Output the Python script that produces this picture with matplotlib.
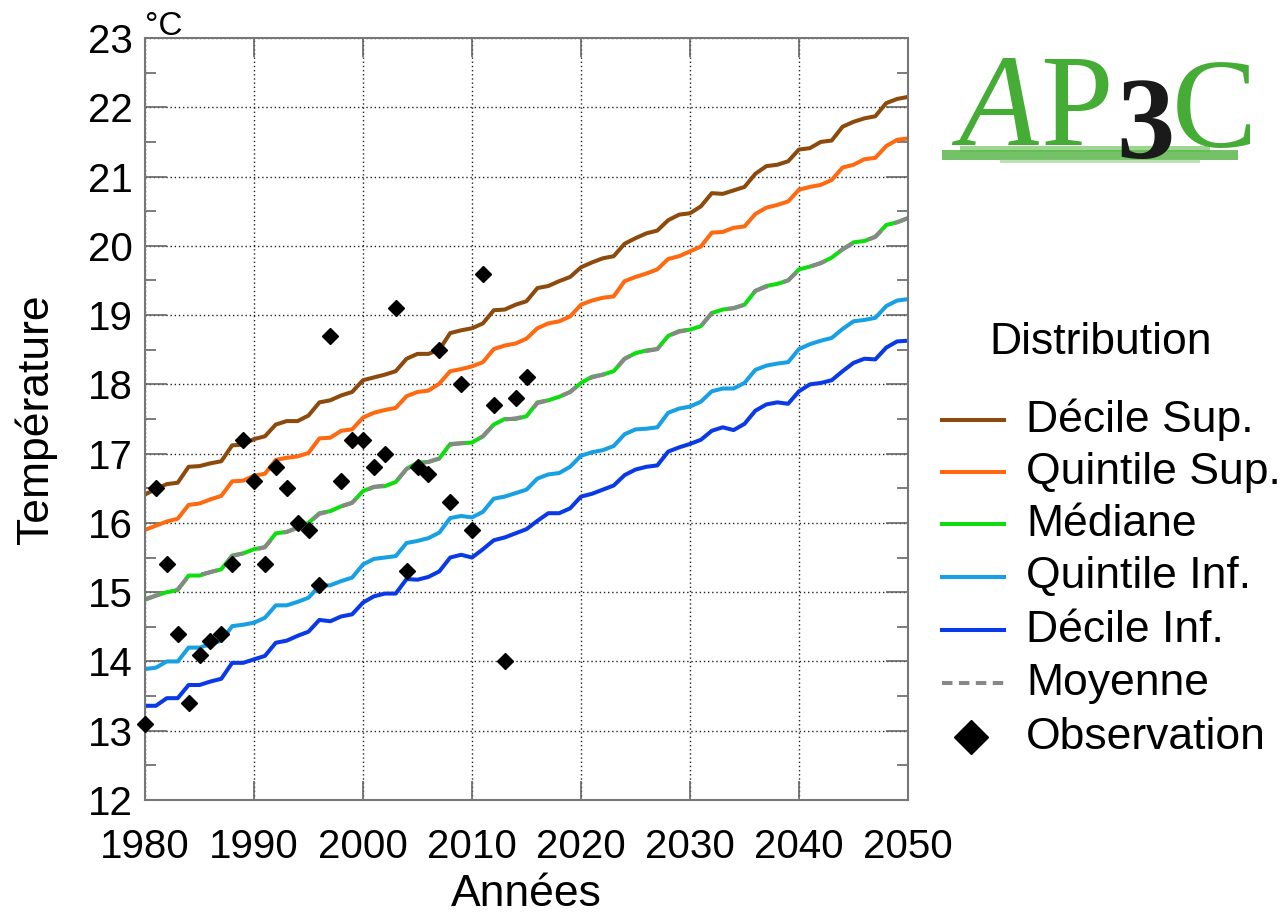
import matplotlib
matplotlib.use('Agg')
import matplotlib.pyplot as plt
from matplotlib.lines import Line2D
from matplotlib.patches import Rectangle
from matplotlib.ticker import MultipleLocator

plt.rcParams['font.family'] = ['Liberation Sans', 'DejaVu Sans']

years = list(range(1980, 2051))

decile_sup = [16.41, 16.49, 16.56, 16.58, 16.81, 16.82, 16.86, 16.89, 17.12, 17.13,
              17.21, 17.25, 17.42, 17.47, 17.47, 17.55, 17.74, 17.77, 17.84, 17.89,
              18.06, 18.10, 18.14, 18.19, 18.37, 18.44, 18.44, 18.50, 18.74, 18.78,
              18.81, 18.88, 19.07, 19.08, 19.15, 19.20, 19.39, 19.42, 19.49, 19.55,
              19.69, 19.76, 19.82, 19.85, 20.03, 20.11, 20.18, 20.22, 20.37, 20.45,
              20.47, 20.57, 20.76, 20.75, 20.80, 20.85, 21.04, 21.15, 21.17, 21.22,
              21.39, 21.41, 21.50, 21.52, 21.72, 21.79, 21.84, 21.87, 22.06, 22.12,
              22.15]

quintile_sup = [15.90, 15.96, 16.02, 16.06, 16.26, 16.28, 16.34, 16.39, 16.60, 16.61,
                16.68, 16.71, 16.91, 16.94, 16.96, 17.01, 17.22, 17.23, 17.33, 17.35,
                17.52, 17.59, 17.63, 17.66, 17.83, 17.89, 17.91, 18.01, 18.19, 18.22,
                18.26, 18.32, 18.51, 18.56, 18.59, 18.66, 18.81, 18.88, 18.91, 18.98,
                19.15, 19.21, 19.25, 19.27, 19.49, 19.55, 19.60, 19.66, 19.81, 19.85,
                19.92, 19.99, 20.19, 20.20, 20.26, 20.28, 20.46, 20.55, 20.59, 20.64,
                20.81, 20.85, 20.88, 20.95, 21.13, 21.17, 21.25, 21.27, 21.44, 21.53,
                21.55]

mediane = [14.90, 14.95, 15.00, 15.03, 15.24, 15.24, 15.29, 15.33, 15.53, 15.56,
           15.62, 15.65, 15.85, 15.87, 15.93, 16.00, 16.14, 16.17, 16.24, 16.29,
           16.46, 16.52, 16.53, 16.59, 16.78, 16.87, 16.88, 16.93, 17.14, 17.15,
           17.16, 17.25, 17.42, 17.50, 17.50, 17.54, 17.74, 17.77, 17.82, 17.89,
           18.02, 18.11, 18.14, 18.19, 18.37, 18.45, 18.49, 18.51, 18.70, 18.77,
           18.79, 18.84, 19.03, 19.08, 19.10, 19.15, 19.35, 19.42, 19.45, 19.50,
           19.66, 19.70, 19.75, 19.83, 19.95, 20.05, 20.07, 20.13, 20.30, 20.34,
           20.40]

moyenne = [14.89, 14.95, 15.00, 15.04, 15.23, 15.25, 15.29, 15.33, 15.52, 15.56,
           15.61, 15.65, 15.84, 15.87, 15.93, 16.00, 16.13, 16.17, 16.24, 16.29,
           16.45, 16.52, 16.54, 16.59, 16.78, 16.86, 16.88, 16.93, 17.13, 17.15,
           17.16, 17.25, 17.42, 17.49, 17.51, 17.54, 17.73, 17.77, 17.82, 17.89,
           18.02, 18.10, 18.14, 18.19, 18.37, 18.45, 18.48, 18.51, 18.70, 18.76,
           18.79, 18.84, 19.03, 19.08, 19.10, 19.15, 19.35, 19.41, 19.45, 19.50,
           19.65, 19.70, 19.75, 19.83, 19.95, 20.04, 20.07, 20.13, 20.29, 20.34,
           20.40]

quintile_inf = [13.89, 13.91, 14.00, 14.00, 14.20, 14.20, 14.25, 14.30, 14.51, 14.53,
                14.56, 14.63, 14.81, 14.81, 14.86, 14.92, 15.09, 15.10, 15.16, 15.21,
                15.40, 15.48, 15.50, 15.52, 15.71, 15.74, 15.78, 15.86, 16.07, 16.10,
                16.08, 16.16, 16.35, 16.38, 16.43, 16.48, 16.64, 16.70, 16.72, 16.81,
                16.97, 17.02, 17.05, 17.11, 17.28, 17.35, 17.36, 17.38, 17.59, 17.65,
                17.68, 17.75, 17.90, 17.94, 17.94, 18.02, 18.21, 18.27, 18.30, 18.32,
                18.51, 18.58, 18.63, 18.67, 18.80, 18.91, 18.93, 18.96, 19.13, 19.21,
                19.23]

decile_inf = [13.36, 13.36, 13.47, 13.47, 13.66, 13.66, 13.71, 13.75, 13.98, 13.98,
              14.03, 14.08, 14.27, 14.30, 14.37, 14.43, 14.60, 14.58, 14.65, 14.68,
              14.85, 14.94, 14.98, 14.98, 15.19, 15.18, 15.22, 15.30, 15.50, 15.54,
              15.50, 15.62, 15.75, 15.79, 15.85, 15.91, 16.03, 16.14, 16.14, 16.21,
              16.38, 16.42, 16.48, 16.54, 16.69, 16.77, 16.81, 16.83, 17.03, 17.09,
              17.14, 17.20, 17.33, 17.38, 17.34, 17.43, 17.62, 17.71, 17.74, 17.72,
              17.90, 18.00, 18.02, 18.06, 18.19, 18.31, 18.37, 18.36, 18.53, 18.62,
              18.63]

obs_years = list(range(1980, 2016))
observations = [13.1, 16.5, 15.4, 14.4, 13.4, 14.1, 14.3, 14.4, 15.4, 17.2,
                16.6, 15.4, 16.8, 16.5, 16.0, 15.9, 15.1, 18.7, 16.6, 17.2,
                17.2, 16.8, 17.0, 19.1, 15.3, 16.8, 16.7, 18.5, 16.3, 18.0,
                15.9, 19.6, 17.7, 14.0, 17.8, 18.1]

labels = ['Décile Sup.', 'Quintile Sup.', 'Médiane', 'Quintile Inf.', 'Décile Inf.']
colors = ['#8c4a0c', '#ff6a10', '#10dd10', '#18a0e4', '#0a3ae8']
series = [decile_sup, quintile_sup, mediane, quintile_inf, decile_inf]

W, H = 1288, 913
fig = plt.figure(figsize=(W / 100, H / 100), dpi=100)
ax = fig.add_axes([145 / W, 1 - 800 / H, 763 / W, 762 / H])

for vals, c in zip(series, colors):
    ax.plot(years, vals, color=c, lw=2.9, solid_joinstyle='round')
ax.plot(years, moyenne, color='#888888', lw=2.9, linestyle=(0, (4, 4)))
ax.plot(obs_years, observations, linestyle='none', marker='D', ms=8.5,
        color='black', clip_on=False, zorder=5)

ax.set_xlim(1980, 2050)
ax.set_ylim(12, 23)
ax.set_xticks(range(1980, 2051, 10))
ax.set_yticks(range(12, 24))
ax.yaxis.set_minor_locator(MultipleLocator(0.5))
ax.grid(True, which='major', color='#222222', linestyle=(0, (1, 2)), lw=1.0)
ax.tick_params(axis='both', which='both', direction='in', top=True, right=True,
               colors='#666666', labelcolor='black', labelsize=29)
ax.tick_params(axis='x', which='major', length=14, width=1.2, pad=20)
ax.tick_params(axis='y', which='major', length=16, width=1.2, pad=9)
ax.tick_params(axis='y', which='minor', length=8, width=1.2)
for s in ax.spines.values():
    s.set_color('#777777')
    s.set_linewidth(1.5)

ax.set_xlabel('Années', fontsize=32, labelpad=6)
ax.set_ylabel('Température', fontsize=32, labelpad=22)
fig.text(145 / W, 1 - 35 / H, '°C', fontsize=24)

# legend drawn by hand
fig.text(1101 / W, 1 - 342 / H, 'Distribution', fontsize=32, ha='center', va='center')
rows = [420, 472, 524, 577, 630, 683, 737]
names = labels + ['Moyenne', 'Observation']
for i, y in enumerate(rows):
    fy = 1 - y / H
    if i < 5:
        fig.add_artist(Line2D([942 / W, 1004 / W], [fy, fy], color=colors[i], lw=2.9))
    elif i == 5:
        fig.add_artist(Line2D([942 / W, 1004 / W], [fy, fy], color='#888888', lw=2.9,
                              linestyle=(0, (2.6, 1.6))))
    else:
        fig.add_artist(Line2D([971 / W], [fy], marker='D', ms=17, color='black',
                              linestyle='none'))
    fig.text(1026 / W, fy, names[i], fontsize=32, va='center')

# AP3C logo
green = '#45ad35'
fig.patches.append(Rectangle((942 / W, 1 - 160 / H), 296 / W, 10 / H,
                             transform=fig.transFigure, color=green, alpha=0.75, lw=0))
fig.patches.append(Rectangle((960 / W, 1 - 152 / H), 250 / W, 6 / H,
                             transform=fig.transFigure, color='#5cbc48', alpha=0.6, lw=0))
fig.patches.append(Rectangle((1000 / W, 1 - 163 / H), 200 / W, 4 / H,
                             transform=fig.transFigure, color='#7cc86a', alpha=0.5, lw=0))
fig.text(958 / W, 1 - 145 / H, 'A', fontsize=94, color=green, family='Liberation Serif',
         style='italic')
fig.text(1040 / W, 1 - 145 / H, 'P', fontsize=94, color=green, family='Liberation Serif')
fig.text(1116 / W, 1 - 158 / H, '3', fontsize=84, color='#1a1a1a', family='Liberation Serif',
         fontweight='bold')
fig.text(1172 / W, 1 - 147 / H, 'C', fontsize=92, color=green, family='Liberation Serif')

fig.savefig('out.png', dpi=100)
